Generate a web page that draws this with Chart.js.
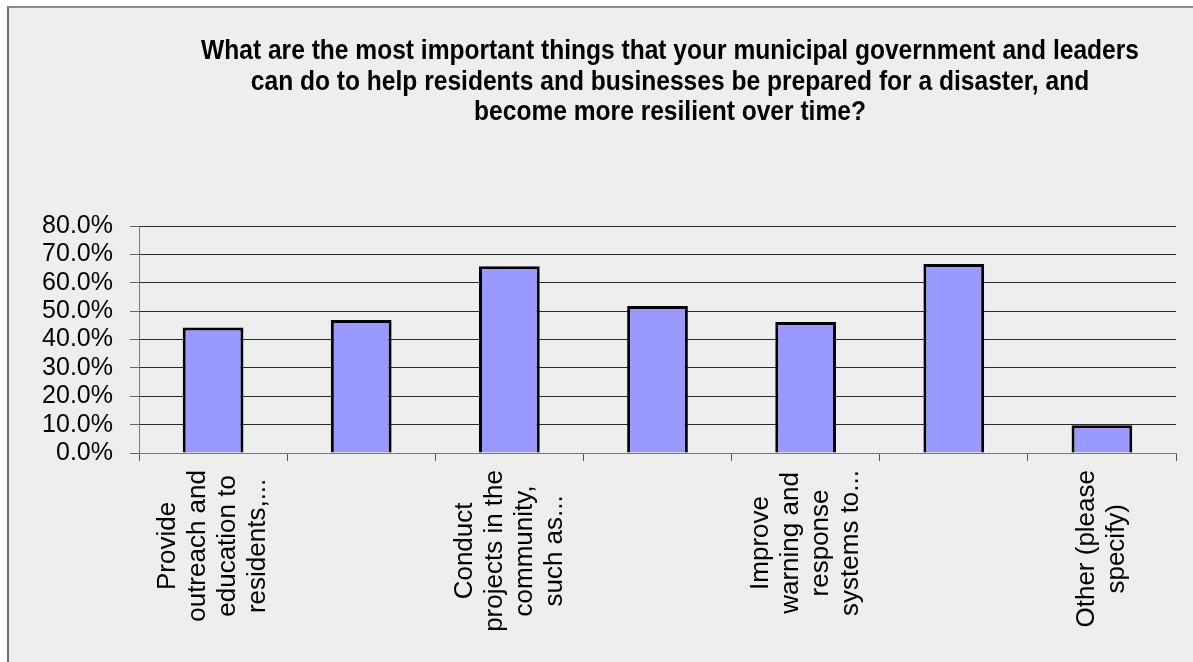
<!DOCTYPE html>
<html>
<head>
<meta charset="utf-8">
<script src="https://cdn.jsdelivr.net/npm/chart.js@4/dist/chart.umd.min.js"></script>
<style>
  body { margin: 0; background: #fff; overflow: hidden; }
  #frame {
    position: absolute; left: 7px; top: 6px; width: 1200px; height: 670px;
    background: #eeeeee;
    border-left: 2px solid #6e6e6e;
    border-top: 2px solid #8c8c8c;
  }
  #chart { position: absolute; left: 0; top: 0; }
</style>
</head>
<body>
<div id="frame"></div>
<canvas id="chart" width="1193" height="662"></canvas>
<script>
const titleLines = [
  "What are the most important things that your municipal government and leaders",
  "can do to help residents and businesses be prepared for a disaster, and",
  "become more resilient over time?"
];

// Excel only printed every other category label, the rest stay blank
const categories = [
  ["Provide", "outreach and", "education to", "residents,..."],
  [],
  ["Conduct", "projects in the", "community,", "such as..."],
  [],
  ["Improve", "warning and", "response", "systems to..."],
  [],
  ["Other (please", "specify)"]
];

const values = [44.2, 46.9, 65.8, 51.8, 46.2, 66.6, 9.8];

const yMin = 0;
const yMax = 80;
const yStep = 10;

const fontFamily = "'Liberation Sans', Arial, sans-serif";

// title and rotated category labels drawn by hand (centered lines like Excel)
const textPlugin = {
  id: "excelText",
  afterDraw(chart) {
    const ctx = chart.ctx;
    const xScale = chart.scales.x;

    ctx.save();
    ctx.fillStyle = "#000";
    ctx.font = "bold 27px " + fontFamily;
    ctx.textAlign = "center";
    ctx.textBaseline = "alphabetic";
    titleLines.forEach((line, i) => {
      ctx.save();
      ctx.translate(670, 59 + i * 30.5);
      ctx.scale(0.91, 1);
      ctx.fillText(line, 0, 0);
      ctx.restore();
    });
    ctx.restore();

    ctx.save();
    ctx.fillStyle = "#000";
    ctx.font = "26px " + fontFamily;
    ctx.textAlign = "center";
    ctx.textBaseline = "middle";
    const lineHeight = 30;
    const top = xScale.top + 17;
    categories.forEach((lines, i) => {
      if (!lines.length) return;
      const widest = Math.max(...lines.map((l) => ctx.measureText(l).width));
      const cx = xScale.getPixelForValue(i);
      const cy = top + widest / 2;
      ctx.save();
      ctx.translate(cx, cy);
      ctx.rotate(-Math.PI / 2);
      lines.forEach((line, j) => {
        ctx.fillText(line, 0, (j - (lines.length - 1) / 2) * lineHeight);
      });
      ctx.restore();
    });
    ctx.restore();
  }
};

new Chart(document.getElementById("chart"), {
  type: "bar",
  data: {
    labels: categories.map((c, i) => c.join(" ") || "Item " + (i + 1)),
    datasets: [{
      data: values,
      backgroundColor: "#9999ff",
      borderColor: "#000",
      borderWidth: 3,
      barPercentage: 0.41,
      categoryPercentage: 1
    }]
  },
  options: {
    responsive: false,
    devicePixelRatio: 1,
    animation: false,
    layout: { padding: { left: 0, top: 226, right: 17, bottom: 9 } },
    plugins: {
      legend: { display: false },
      title: { display: false },
      tooltip: { enabled: false }
    },
    scales: {
      x: {
        offset: true,
        grid: {
          offset: true,
          drawOnChartArea: false,
          drawTicks: true,
          tickLength: 8,
          tickColor: "#555"
        },
        border: { color: "#777", width: 1 },
        ticks: { display: false },
        afterFit(scale) { scale.height = 200; }
      },
      y: {
        min: yMin,
        max: yMax,
        grid: {
          color: "#2a2a2a",
          lineWidth: 1,
          tickLength: 9,
          tickColor: "#666"
        },
        border: { color: "#777", width: 1 },
        ticks: {
          stepSize: yStep,
          autoSkip: false,
          padding: 17,
          color: "#000",
          font: { family: fontFamily, size: 25 },
          callback: (v) => v.toFixed(1) + "%"
        },
        afterFit(scale) { scale.width = 139; }
      }
    }
  },
  plugins: [textPlugin]
});
</script>
</body>
</html>
